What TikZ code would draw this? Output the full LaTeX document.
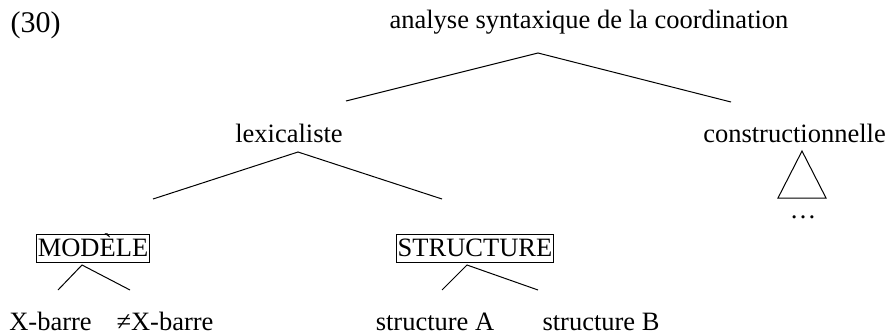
\documentclass[tikz,border=0pt]{standalone}
\usepackage{fontspec}
\setmainfont{Liberation Serif}
\begin{document}
\begin{tikzpicture}[x=1pt,y=-1pt,
  lbl/.style={font=\fontsize{26.5}{31}\selectfont, inner sep=0pt, anchor=base},
  boxed/.style={lbl, draw, line width=1.1pt, inner xsep=1.5pt, inner ysep=1.5pt,
    text height=20pt, text depth=5pt},
  branch/.style={line width=1pt}]
\useasboundingbox (0,0) rectangle (888,335);
\node[lbl, font=\fontsize{30}{34}\selectfont] (num) at (35.5,32) {(30)};
\node[lbl] (root) at (589,28) {analyse syntaxique de la coordination};
\node[lbl] (lex) at (289,142) {lexicaliste};
\node[lbl] (cons) at (794.5,142) {constructionnelle};
\node[lbl] (dots) at (803,218) {\dots};
\node[boxed] (mod) at (93,256) {MODÈLE};
\node[boxed] (str) at (475,256) {STRUCTURE};
\node[lbl] (xb) at (50.5,330) {X-barre};
\node[lbl] (nxb) at (165,330) {≠X-barre};
\node[lbl] (sa) at (435,330) {structure A};
\node[lbl] (sb) at (601,330) {structure B};
% branch points
\coordinate (rootA) at (538,53);
\coordinate (rootL) at (346,101);
\coordinate (rootR) at (731,102);
\coordinate (lexA) at (298,152);
\coordinate (lexL) at (153,199);
\coordinate (lexR) at (442,199);
\coordinate (modA) at (82,265);
\coordinate (modL) at (58,290);
\coordinate (modR) at (130,290);
\coordinate (strA) at (467,265);
\coordinate (strL) at (442,290);
\coordinate (strR) at (538,290);
\coordinate (triA) at (802,151);
\coordinate (triL) at (778,198);
\coordinate (triR) at (826,198);
\draw[branch] (rootL) -- (rootA) -- (rootR);
\draw[branch] (lexL) -- (lexA) -- (lexR);
\draw[branch] (modL) -- (modA) -- (modR);
\draw[branch] (strL) -- (strA) -- (strR);
\draw[branch] (triA) -- (triL) -- (triR) -- cycle;
\end{tikzpicture}
\end{document}
